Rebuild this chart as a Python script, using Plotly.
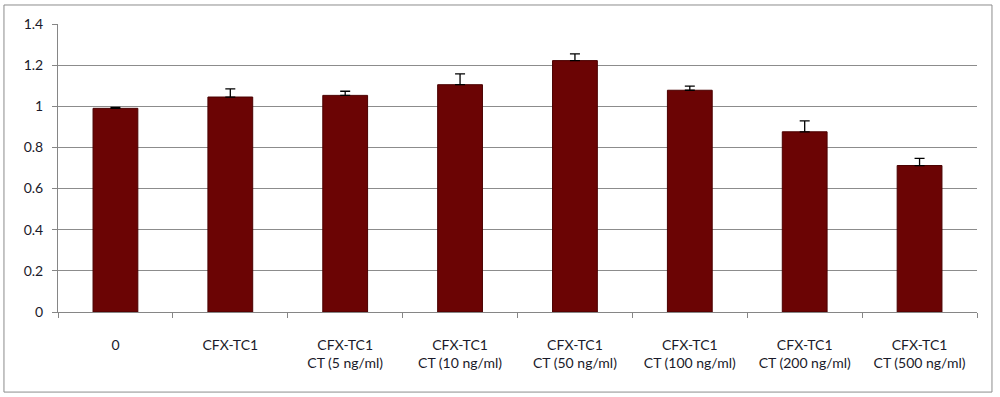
import plotly.graph_objects as go

categories = ["0", "CFX-TC1", "CFX-TC1<br>CT (5 ng/ml)", "CFX-TC1<br>CT (10 ng/ml)",
              "CFX-TC1<br>CT (50 ng/ml)", "CFX-TC1<br>CT (100 ng/ml)",
              "CFX-TC1<br>CT (200 ng/ml)", "CFX-TC1<br>CT (500 ng/ml)"]
values = [0.99, 1.045, 1.053, 1.105, 1.222, 1.078, 0.876, 0.712]
errors = [0.004, 0.04, 0.02, 0.053, 0.033, 0.02, 0.053, 0.035]

fig = go.Figure(go.Bar(
    x=categories, y=values, width=0.39,
    marker=dict(color="#6B0404", line=dict(color="#4A0000", width=1)),
    error_y=dict(type="data", array=errors, arrayminus=[0] * len(errors),
                 symmetric=False, color="#000000", thickness=1.3, width=5),
))

fig.update_layout(
    width=1000, height=397,
    margin=dict(l=58, r=23, t=24, b=85),
    paper_bgcolor="white", plot_bgcolor="white",
    font=dict(family="Lato, Open Sans, sans-serif", size=14, color="#1a1a2a"),
    showlegend=False,
    shapes=[dict(type="rect", xref="paper", yref="paper",
                 x0=-0.0588, x1=1.0163, y0=-0.278, y1=1.066,
                 line=dict(color="#8c8c8c", width=1), fillcolor="rgba(0,0,0,0)")],
)
fig.update_xaxes(showline=True, linecolor="#868686", linewidth=1,
                 ticks="outside", tickson="boundaries", ticklen=5, tickcolor="#868686",
                 showgrid=False, ticklabelstandoff=20, automargin=False)
fig.update_yaxes(range=[0, 1.4], dtick=0.2, showline=True, linecolor="#868686",
                 ticks="outside", ticklen=5, tickcolor="#868686",
                 gridcolor="#8c8c8c", gridwidth=1, zeroline=False,
                 ticklabelstandoff=6, automargin=False)

# plain page: no default body margin
fig.write_html("out.html", config={"displayModeBar": False},
               post_script="document.body.style.margin='0';")
